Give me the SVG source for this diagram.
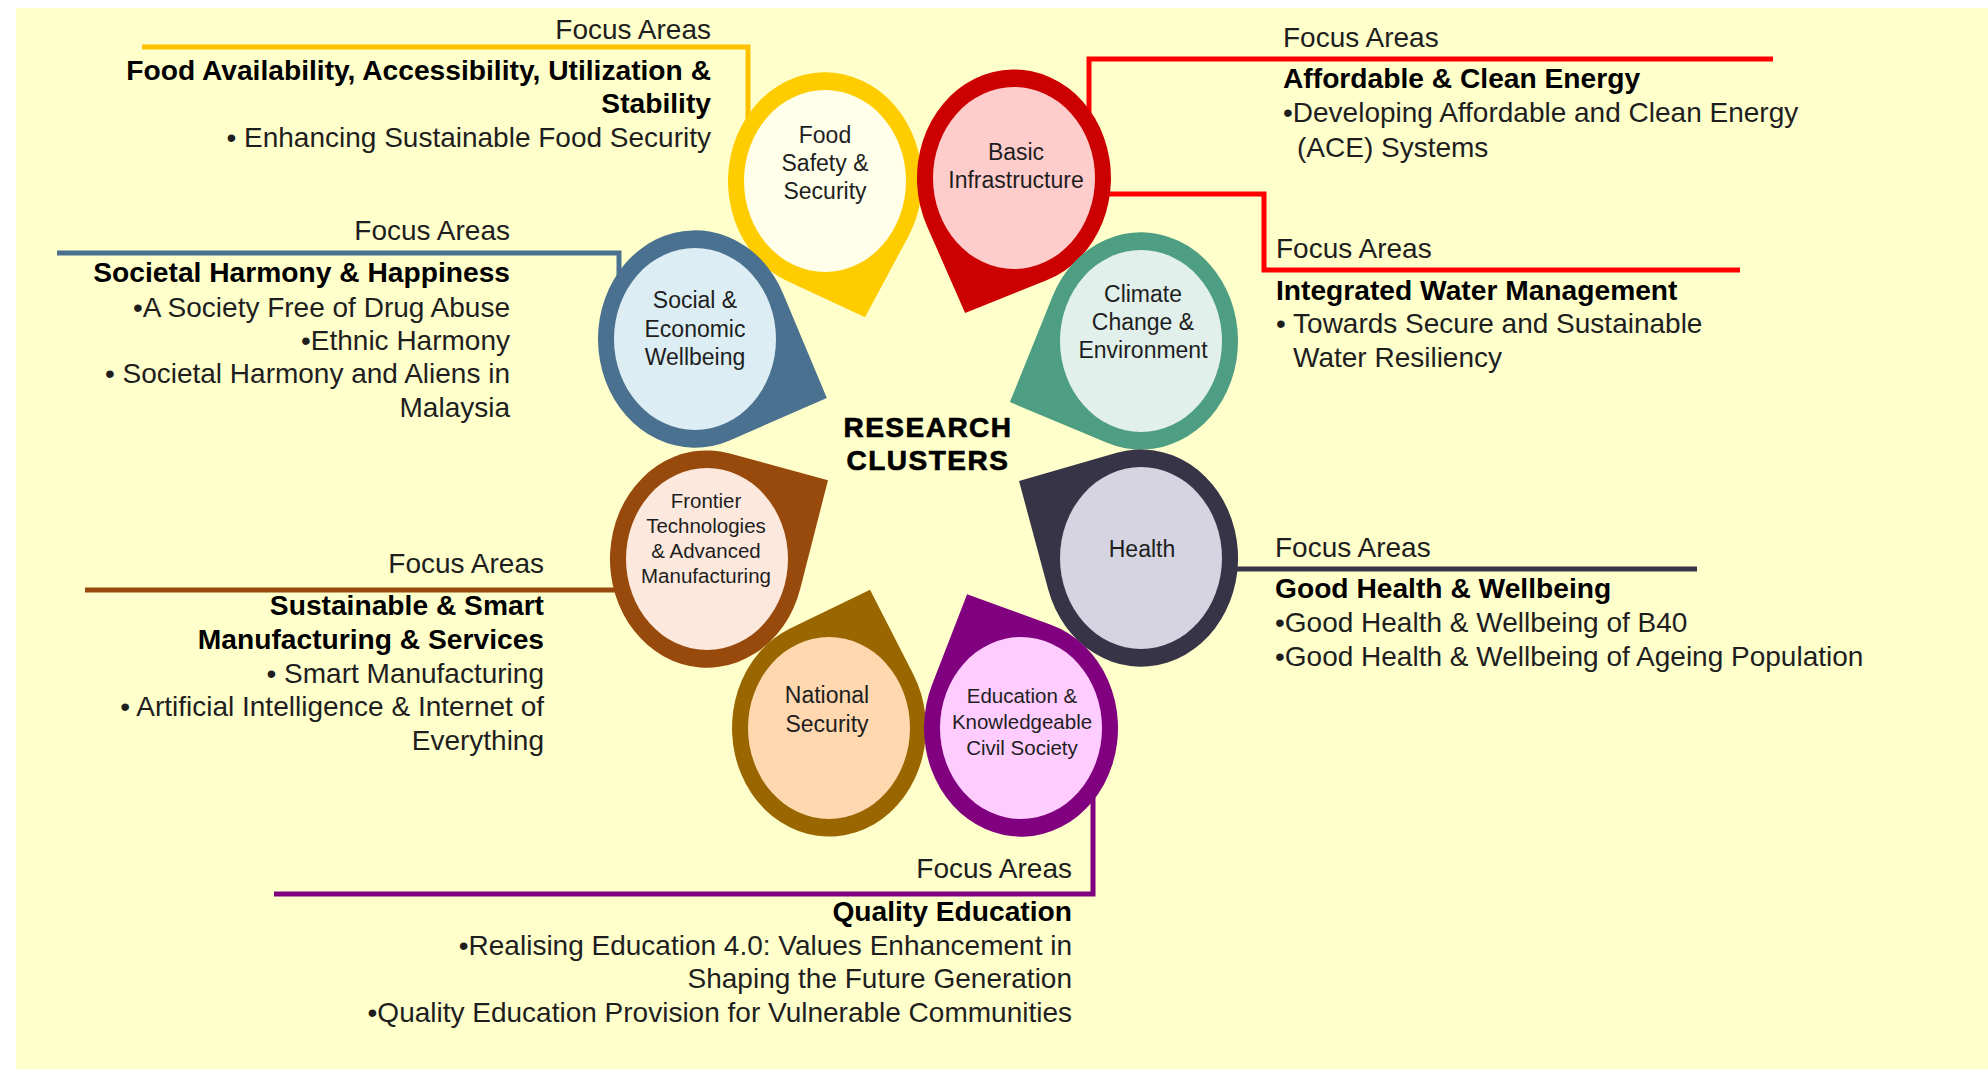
<svg xmlns="http://www.w3.org/2000/svg" width="1988" height="1069" viewBox="0 0 1988 1069">
<style>
text{font-family:"Liberation Sans",Arial,sans-serif;fill:#1e1e1e}
.nt{font-size:23px;text-anchor:middle}
.ns{font-size:20.5px;text-anchor:middle}
.fa{font-size:28px}
.hd{font-size:28.2px;font-weight:bold;fill:#000}
.tx{font-size:28px}
.r{text-anchor:end}
.conn{fill:none;stroke-width:5;stroke-linejoin:miter}
.title{font-size:28px;font-weight:bold;text-anchor:middle;fill:#000;stroke:#000;stroke-width:0.7;letter-spacing:1.5px}
</style>
<rect x="0" y="0" width="1988" height="1069" fill="#ffffff"/>
<rect x="16" y="8" width="1972" height="1061" fill="#FFFFCC"/>

<g id="connectors">
<polyline class="conn" stroke="#FFC000" points="142,47 748,47 748,130"/>
<polyline class="conn" stroke="#4B7190" points="57,253 619,253 619,280"/>
<polyline class="conn" stroke="#FF0000" points="1089,130 1089,59 1773,59"/>
<polyline class="conn" stroke="#FF0000" points="1095,194 1264,194 1264,270 1740,270"/>
<polyline class="conn" stroke="#984A0C" points="85,590 640,590"/>
<polyline class="conn" stroke="#373447" points="1220,569 1697,569"/>
<polyline class="conn" stroke="#800080" points="1093,780 1093,894 274,894"/>
</g>

<g id="food">
<g transform="translate(825,181) scale(1,1.12) rotate(71.8)"><path d="M128,0 L73.5,63.3 A97,97 0 1 1 73.5,-63.3 Z" fill="#FFCC00"/></g>
<ellipse cx="825" cy="181" rx="81" ry="91" fill="#FFFFEA"/>
<text class="nt" x="825" y="143">Food</text>
<text class="nt" x="825" y="171">Safety &amp;</text>
<text class="nt" x="825" y="199">Security</text>
</g>

<g id="basic">
<g transform="translate(1014,178) scale(1,1.12) rotate(112.1)"><path d="M130,0 L72.4,64.6 A97,97 0 1 1 72.4,-64.6 Z" fill="#CC0000"/></g>
<ellipse cx="1014" cy="178" rx="81" ry="91" fill="#FFCCCC"/>
<text class="nt" x="1016" y="160">Basic</text>
<text class="nt" x="1016" y="188">Infrastructure</text>
</g>

<g id="social">
<g transform="translate(695,339) scale(1,1.12) rotate(21.8)"><path d="M142,0 L66.3,70.8 A97,97 0 1 1 66.3,-70.8 Z" fill="#4B7190"/></g>
<ellipse cx="695" cy="339" rx="81" ry="91" fill="#DCEEF4"/>
<text class="nt" x="695" y="308">Social &amp;</text>
<text class="nt" x="695" y="337">Economic</text>
<text class="nt" x="695" y="365">Wellbeing</text>
</g>

<g id="climate">
<g transform="translate(1141,341) scale(1,1.12) rotate(157.4)"><path d="M142,0 L66.3,70.8 A97,97 0 1 1 66.3,-70.8 Z" fill="#4E9E84"/></g>
<ellipse cx="1141" cy="341" rx="81" ry="91" fill="#E2F0EC"/>
<text class="nt" x="1143" y="302">Climate</text>
<text class="nt" x="1143" y="330">Change &amp;</text>
<text class="nt" x="1143" y="358">Environment</text>
</g>

<g id="frontier">
<g transform="translate(707,559) scale(1,1.12) rotate(-30.2)"><path d="M140,0 L67.2,69.9 A97,97 0 1 1 67.2,-69.9 Z" fill="#984A0C"/></g>
<ellipse cx="707" cy="559" rx="81" ry="91" fill="#FCE8DC"/>
<text class="ns" x="706" y="508">Frontier</text>
<text class="ns" x="706" y="533">Technologies</text>
<text class="ns" x="706" y="558">&amp; Advanced</text>
<text class="ns" x="706" y="583">Manufacturing</text>
</g>

<g id="health">
<g transform="translate(1141,558) scale(1,1.12) rotate(-150.6)"><path d="M140,0 L67.2,69.9 A97,97 0 1 1 67.2,-69.9 Z" fill="#373447"/></g>
<ellipse cx="1141" cy="558" rx="81" ry="91" fill="#D5D4E0"/>
<text class="nt" x="1142" y="557">Health</text>
</g>

<g id="national">
<g transform="translate(829,728) scale(1,1.12) rotate(-71.6)"><path d="M130,0 L72.4,64.6 A97,97 0 1 1 72.4,-64.6 Z" fill="#996600"/></g>
<ellipse cx="829" cy="728" rx="81" ry="91" fill="#FFD8B0"/>
<text class="nt" x="827" y="703">National</text>
<text class="nt" x="827" y="732">Security</text>
</g>

<g id="education">
<g transform="translate(1021,728) scale(1,1.12) rotate(-114.3)"><path d="M131,0 L71.8,65.2 A97,97 0 1 1 71.8,-65.2 Z" fill="#800080"/></g>
<ellipse cx="1021" cy="728" rx="81" ry="91" fill="#FFCCFF"/>
<text class="ns" x="1022" y="703">Education &amp;</text>
<text class="ns" x="1022" y="729">Knowledgeable</text>
<text class="ns" x="1022" y="755">Civil Society</text>
</g>

<g id="center-title">
<text class="title" x="928" y="437">RESEARCH</text>
<text class="title" x="928" y="470">CLUSTERS</text>
</g>

<g id="focus-food">
<text class="fa r" x="711" y="39">Focus Areas</text>
<text class="hd r" x="711" y="80">Food Availability, Accessibility, Utilization &amp;</text>
<text class="hd r" x="711" y="113">Stability</text>
<text class="tx r" x="711" y="147">• Enhancing Sustainable Food Security</text>
</g>

<g id="focus-social">
<text class="fa r" x="510" y="240">Focus Areas</text>
<text class="hd r" x="510" y="282">Societal Harmony &amp; Happiness</text>
<text class="tx r" x="510" y="317">•A Society Free of Drug Abuse</text>
<text class="tx r" x="510" y="350">•Ethnic Harmony</text>
<text class="tx r" x="510" y="383">• Societal Harmony and Aliens in</text>
<text class="tx r" x="510" y="417">Malaysia</text>
</g>

<g id="focus-energy">
<text class="fa" x="1283" y="47">Focus Areas</text>
<text class="hd" x="1283" y="88">Affordable &amp; Clean Energy</text>
<text class="tx" x="1283" y="122">•Developing Affordable and Clean Energy</text>
<text class="tx" x="1297" y="157">(ACE) Systems</text>
</g>

<g id="focus-water">
<text class="fa" x="1276" y="258">Focus Areas</text>
<text class="hd" x="1276" y="300">Integrated Water Management</text>
<text class="tx" x="1276" y="333">• Towards Secure and Sustainable</text>
<text class="tx" x="1293" y="367">Water Resiliency</text>
</g>

<g id="focus-health">
<text class="fa" x="1275" y="557">Focus Areas</text>
<text class="hd" x="1275" y="598">Good Health &amp; Wellbeing</text>
<text class="tx" x="1275" y="632">•Good Health &amp; Wellbeing of B40</text>
<text class="tx" x="1275" y="666">•Good Health &amp; Wellbeing of Ageing Population</text>
</g>

<g id="focus-manufacturing">
<text class="fa r" x="544" y="573">Focus Areas</text>
<text class="hd r" x="544" y="615">Sustainable &amp; Smart</text>
<text class="hd r" x="544" y="649">Manufacturing &amp; Services</text>
<text class="tx r" x="544" y="683">• Smart Manufacturing</text>
<text class="tx r" x="544" y="716">• Artificial Intelligence &amp; Internet of</text>
<text class="tx r" x="544" y="750">Everything</text>
</g>

<g id="focus-education">
<text class="fa r" x="1072" y="878">Focus Areas</text>
<text class="hd r" x="1072" y="921">Quality Education</text>
<text class="tx r" x="1072" y="955">•Realising Education 4.0: Values Enhancement in</text>
<text class="tx r" x="1072" y="988">Shaping the Future Generation</text>
<text class="tx r" x="1072" y="1022">•Quality Education Provision for Vulnerable Communities</text>
</g>
</svg>
